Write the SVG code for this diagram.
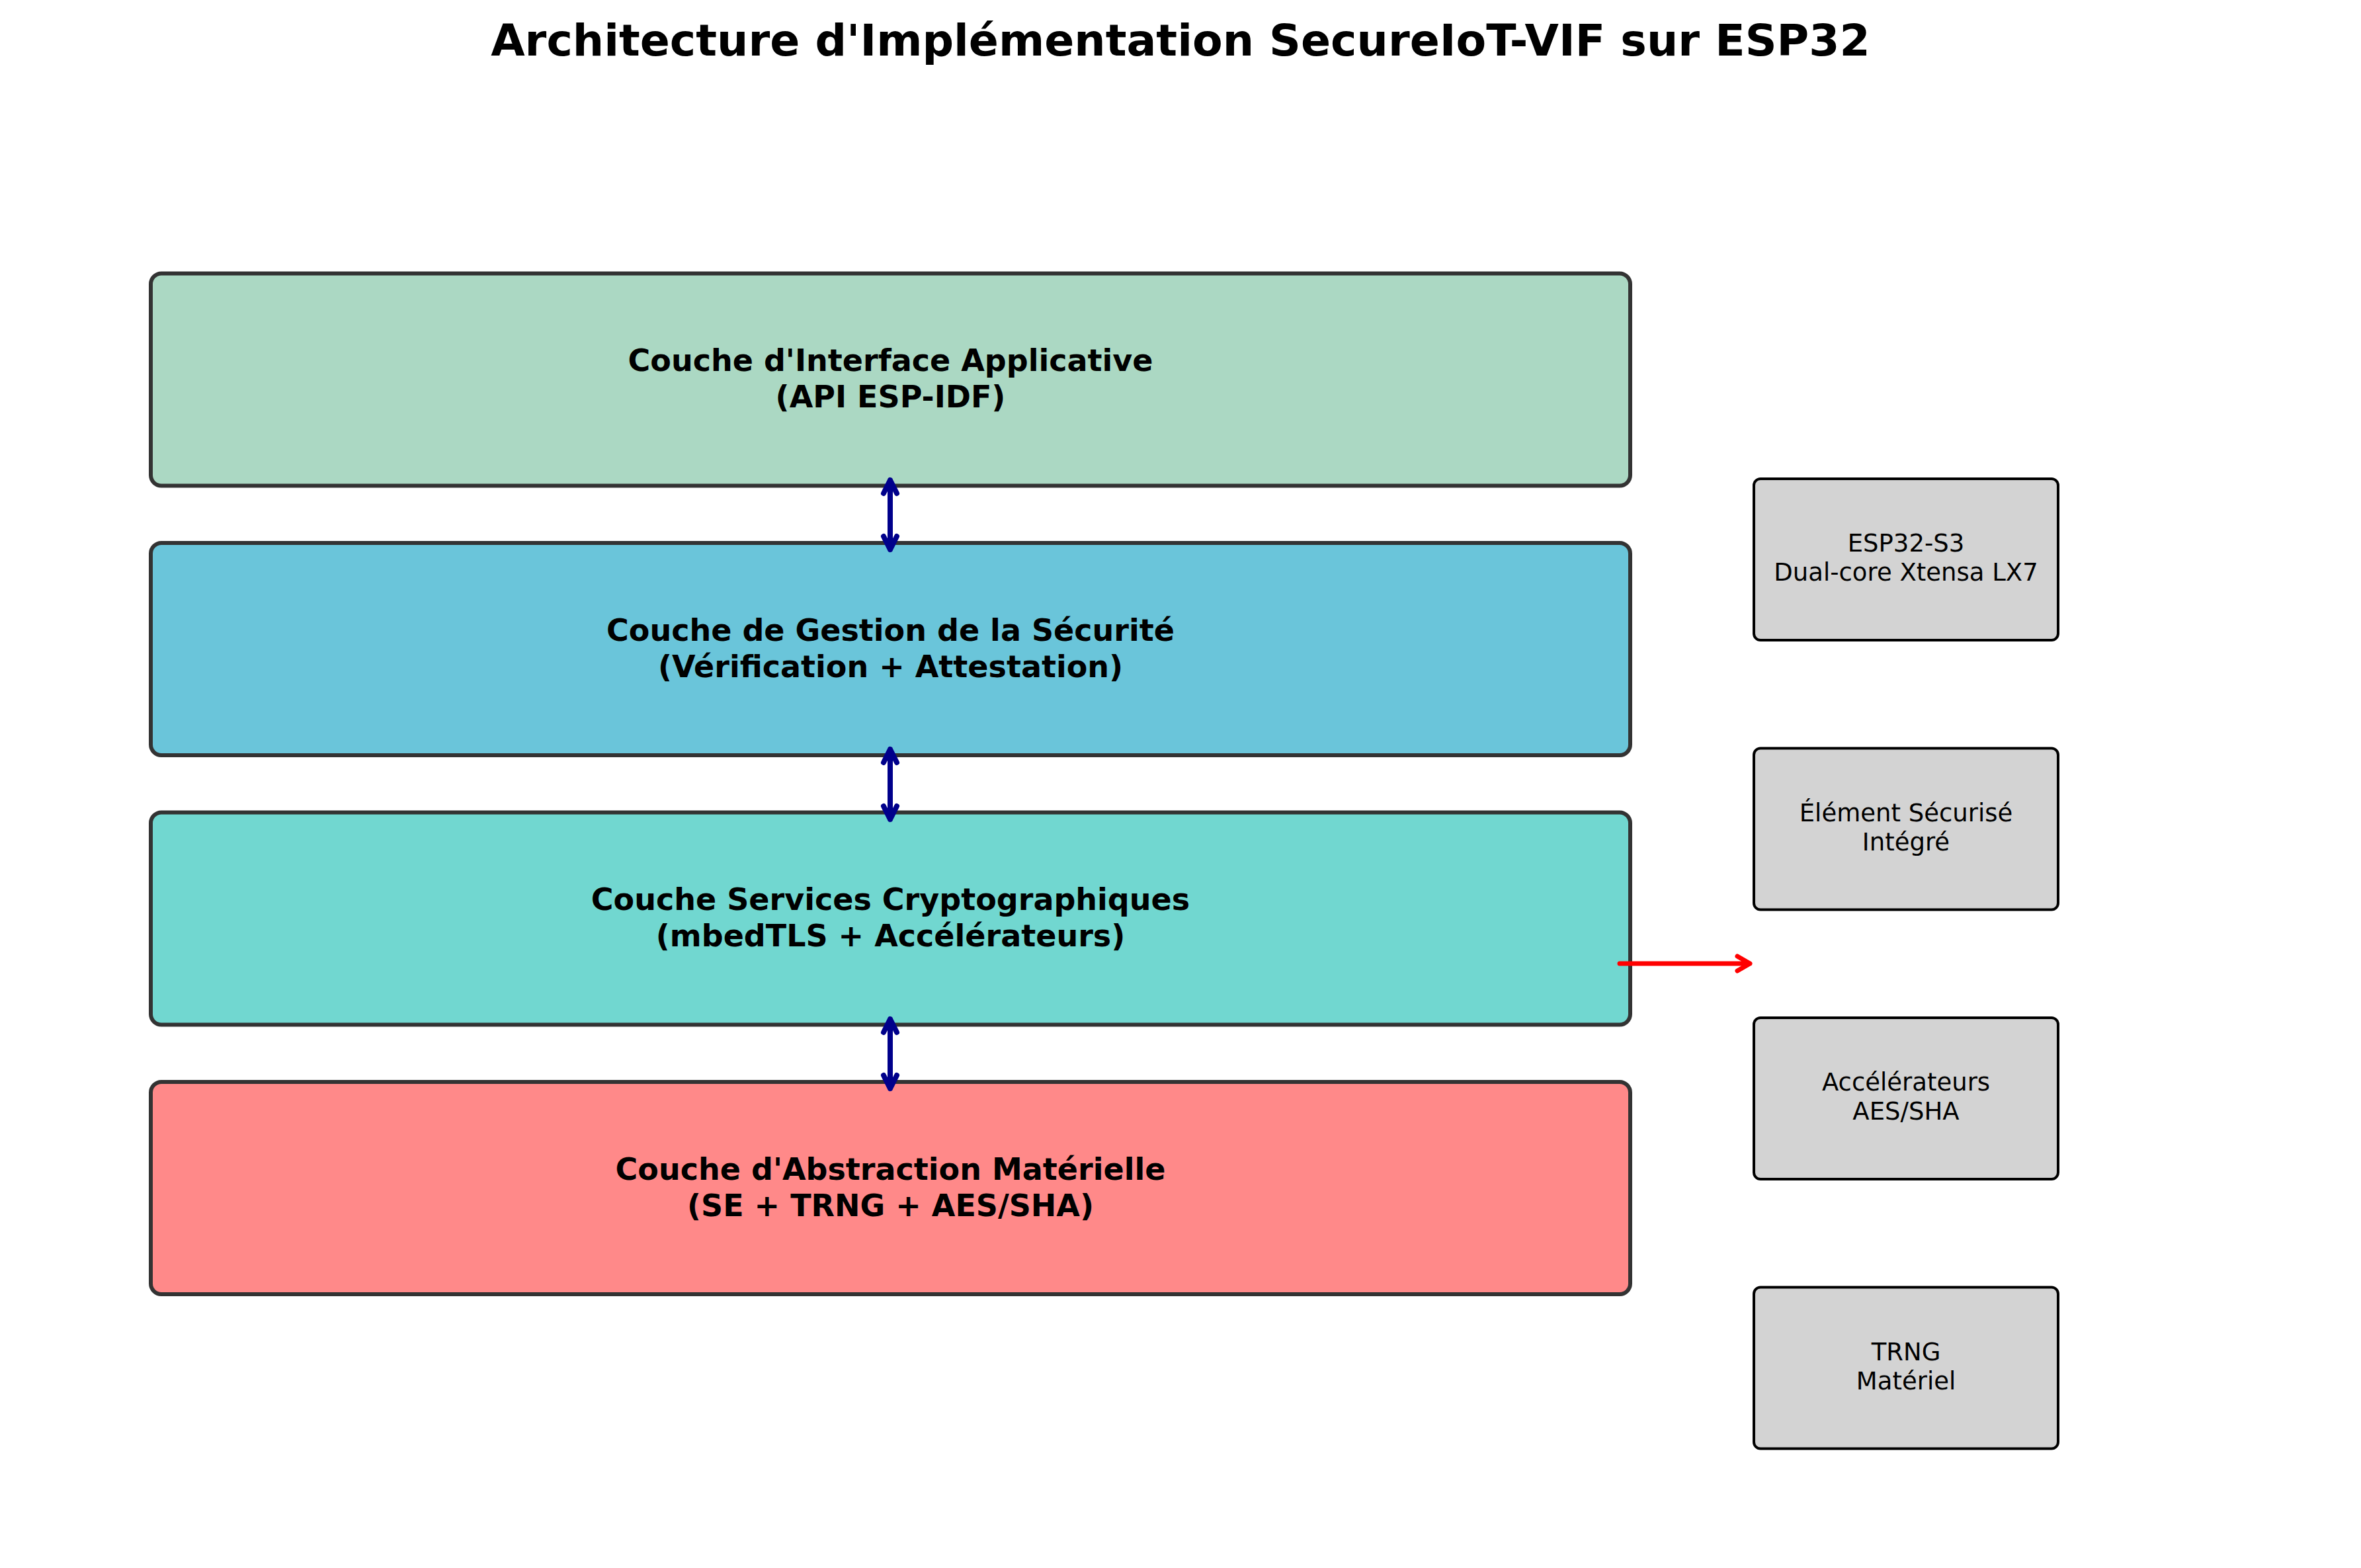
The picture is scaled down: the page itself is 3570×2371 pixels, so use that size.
<svg xmlns="http://www.w3.org/2000/svg" width="3570" height="2371" viewBox="0 0 3570 2371">
<style>
text{font-family:"DejaVu Sans","Liberation Sans",sans-serif;text-anchor:middle;fill:#000}
.title{font-size:66.5px;font-weight:bold}
.lt{font-size:46px;font-weight:bold}
.st{font-size:37px}
.layer{stroke:#333;stroke-width:6}
.hw{fill:#d3d3d3;stroke:#000;stroke-width:4}
.blue{fill:none;stroke:#00008b;stroke-width:8;stroke-linecap:round;stroke-linejoin:round}
.red{fill:none;stroke:#ff0000;stroke-width:7;stroke-linecap:round;stroke-linejoin:round}
</style>
<rect width="3570" height="2371" fill="#fff"/>
<text class="title" x="1785" y="84">Architecture d'Implémentation SecureIoT-VIF sur ESP32</text>
<g id="layer-app">
<rect class="layer" x="228" y="413.5" width="2237" height="321" rx="16" fill="#abd8c3"/>
<text class="lt" x="1346.5" y="561">Couche d'Interface Applicative</text>
<text class="lt" x="1346.5" y="616">(API ESP-IDF)</text>
</g>
<g id="layer-security">
<rect class="layer" x="228" y="821" width="2237" height="321" rx="16" fill="#6ac5da"/>
<text class="lt" x="1346.5" y="968.5">Couche de Gestion de la Sécurité</text>
<text class="lt" x="1346.5" y="1023.5">(Vérification + Attestation)</text>
</g>
<g id="layer-crypto">
<rect class="layer" x="228" y="1228.5" width="2237" height="321" rx="16" fill="#71d7d0"/>
<text class="lt" x="1346.5" y="1376">Couche Services Cryptographiques</text>
<text class="lt" x="1346.5" y="1431">(mbedTLS + Accélérateurs)</text>
</g>
<g id="layer-hal">
<rect class="layer" x="228" y="1636" width="2237" height="321" rx="16" fill="#ff8989"/>
<text class="lt" x="1346.5" y="1783.5">Couche d'Abstraction Matérielle</text>
<text class="lt" x="1346.5" y="1838.5">(SE + TRNG + AES/SHA)</text>
</g>
<g id="hw-esp32">
<rect class="hw" x="2652" y="724" width="460" height="244" rx="10"/>
<text class="st" x="2882" y="834">ESP32-S3</text>
<text class="st" x="2882" y="878">Dual-core Xtensa LX7</text>
</g>
<g id="hw-se">
<rect class="hw" x="2652" y="1131.5" width="460" height="244" rx="10"/>
<text class="st" x="2882" y="1241.5">Élément Sécurisé</text>
<text class="st" x="2882" y="1285.5">Intégré</text>
</g>
<g id="hw-accel">
<rect class="hw" x="2652" y="1539" width="460" height="244" rx="10"/>
<text class="st" x="2882" y="1649">Accélérateurs</text>
<text class="st" x="2882" y="1693">AES/SHA</text>
</g>
<g id="hw-trng">
<rect class="hw" x="2652" y="1946.5" width="460" height="244" rx="10"/>
<text class="st" x="2882" y="2056.5">TRNG</text>
<text class="st" x="2882" y="2100.5">Matériel</text>
</g>
<g id="connectors">
<path class="blue" d="M1346 726 L1346 831 M1336 746 L1346 726 L1356 746 M1336 811 L1346 831 L1356 811"/>
<path class="blue" d="M1346 1133 L1346 1239 M1336 1153 L1346 1133 L1356 1153 M1336 1219 L1346 1239 L1356 1219"/>
<path class="blue" d="M1346 1541 L1346 1646 M1336 1561 L1346 1541 L1356 1561 M1336 1626 L1346 1646 L1356 1626"/>
<path class="red" d="M2449 1457 L2646 1457 M2627 1446 L2646 1457 L2627 1468"/>
</g>
</svg>
